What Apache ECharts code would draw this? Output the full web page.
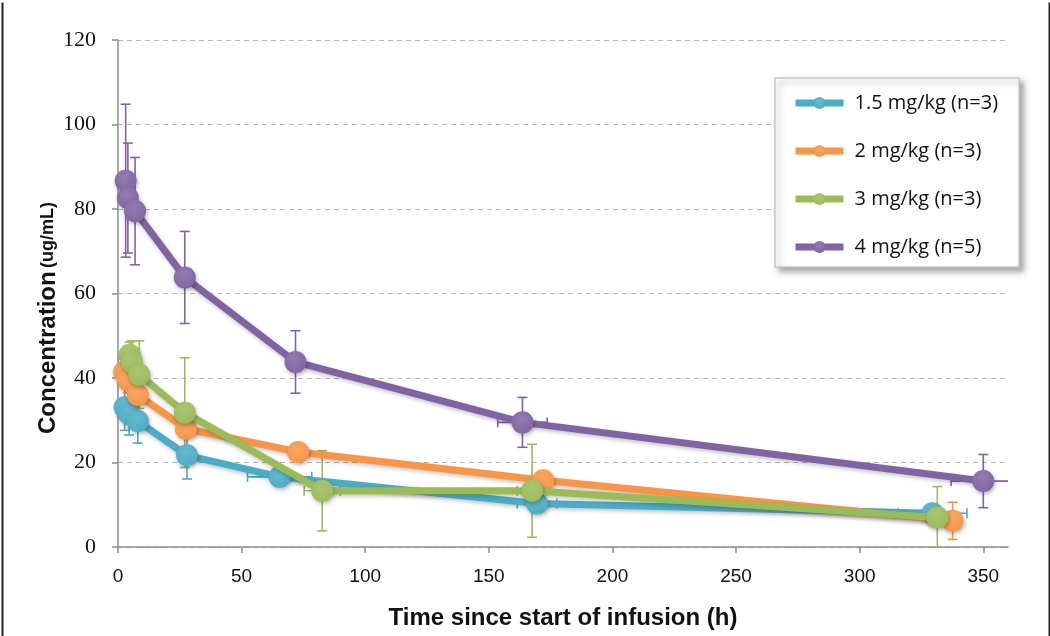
<!DOCTYPE html>
<html>
<head>
<meta charset="utf-8">
<script src="https://cdn.jsdelivr.net/npm/echarts@6/dist/echarts.min.js"></script>
<style>
html,body{margin:0;padding:0;background:#fff;}
#chart{width:1050px;height:636px;}
</style>
</head>
<body>
<div id="chart"></div>
<script>
// ---- data ----
const seriesNames = ['1.5 mg/kg (n=3)', '2 mg/kg (n=3)', '3 mg/kg (n=3)', '4 mg/kg (n=5)'];
const colors = ['#4bacc6', '#f79646', '#9bbb59', '#8064a2'];

const time15 = [2.7, 4.5, 8.0, 27.9, 65.4, 169.5, 329.4];
const conc15 = [33.1, 31.5, 29.8, 21.7, 16.6, 10.3, 8.0];
const sdConc15 = [5.5, 5.0, 5.2, 5.6, 1.0, 1.0, 1.0];
const sdTime15 = [0, 0, 0, 0, 13, 8, 14];

const time2 = [2.5, 4.0, 8.0, 27.5, 72.9, 172, 337.6];
const conc2 = [41.5, 39.5, 36.0, 28.0, 22.5, 15.8, 6.2];
const sdConc2 = [3, 3, 4, 2, 1, 1, 4.4];
const sdTime2 = [0, 0, 0, 0, 0, 0, 0];

const time3 = [4.7, 5.6, 8.6, 27.0, 82.6, 167.5, 331.4];
const conc3 = [45.5, 43.8, 40.8, 31.8, 13.3, 13.3, 7.0];
const sdConc3 = [3, 5, 8, 13, 9.5, 11, 7.3];
const sdTime3 = [0, 0, 0, 0, 7.3, 6, 0];

const time4 = [3.1, 4.0, 6.9, 27.0, 71.8, 163.6, 350];
const conc4 = [86.7, 82.6, 79.5, 63.8, 43.8, 29.5, 15.6];
const sdConc4 = [18.1, 13.0, 12.7, 10.9, 7.4, 5.9, 6.3];
const sdTime4 = [0, 0, 0, 0, 0, 10, 13];

const xTicks = [0, 50, 100, 150, 200, 250, 300, 350];
const yTicks = [0, 20, 40, 60, 80, 100, 120];

const groups = [
  [time15, conc15, sdConc15, sdTime15],
  [time2, conc2, sdConc2, sdTime2],
  [time3, conc3, sdConc3, sdTime3],
  [time4, conc4, sdConc4, sdTime4]
];

function lighten(hex, f) {
  const n = parseInt(hex.slice(1), 16);
  let r = (n >> 16) & 255, g = (n >> 8) & 255, b = n & 255;
  r = Math.round(r + (255 - r) * f); g = Math.round(g + (255 - g) * f); b = Math.round(b + (255 - b) * f);
  return 'rgb(' + r + ',' + g + ',' + b + ')';
}

const series = [];
groups.forEach((g, i) => {
  const [t, c, sc, st] = g;
  const color = colors[i];
  // error bars
  series.push({
    type: 'custom',
    name: 'err' + i,
    clip: true,
    z: 1,
    silent: true,
    data: t.map((x, k) => [x, c[k], sc[k], st[k]]),
    renderItem: function (params, api) {
      const x = api.value(0), y = api.value(1), ey = api.value(2), ex = api.value(3);
      const children = [];
      const cap = 5;
      const style = { stroke: color, lineWidth: 1.6 };
      if (ey > 0) {
        const p1 = api.coord([x, y + ey]);
        const p2 = api.coord([x, y - ey]);
        children.push({ type: 'line', shape: { x1: p1[0], y1: p1[1], x2: p2[0], y2: p2[1] }, style: style });
        children.push({ type: 'line', shape: { x1: p1[0] - cap, y1: p1[1], x2: p1[0] + cap, y2: p1[1] }, style: style });
        children.push({ type: 'line', shape: { x1: p2[0] - cap, y1: p2[1], x2: p2[0] + cap, y2: p2[1] }, style: style });
      }
      if (ex > 0) {
        const q1 = api.coord([x - ex, y]);
        const q2 = api.coord([x + ex, y]);
        children.push({ type: 'line', shape: { x1: q1[0], y1: q1[1], x2: q2[0], y2: q2[1] }, style: style });
        children.push({ type: 'line', shape: { x1: q1[0], y1: q1[1] - cap, x2: q1[0], y2: q1[1] + cap }, style: style });
        children.push({ type: 'line', shape: { x1: q2[0], y1: q2[1] - cap, x2: q2[0], y2: q2[1] + cap }, style: style });
      }
      return { type: 'group', children: children };
    }
  });
  // line + markers
  series.push({
    type: 'line',
    name: seriesNames[i],
    z: 2 + i,
    data: t.map((x, k) => [x, c[k]]),
    symbol: 'circle',
    symbolSize: 22,
    showSymbol: true,
    clip: true,
    lineStyle: { color: color, width: 7, shadowColor: 'rgba(0,0,0,0.25)', shadowBlur: 4, shadowOffsetX: 1, shadowOffsetY: 2 },
    itemStyle: {
      color: {
        type: 'radial', x: 0.45, y: 0.35, r: 0.7,
        colorStops: [{ offset: 0, color: lighten(color, 0.15) }, { offset: 1, color: color }]
      },
      borderWidth: 0,
      shadowColor: 'rgba(0,0,0,0.3)', shadowBlur: 4, shadowOffsetX: 1, shadowOffsetY: 2
    },
    emphasis: { disabled: true },
    animation: false
  });
});

const chart = echarts.init(document.getElementById('chart'), null, { renderer: 'canvas' });
chart.setOption({
  animation: false,
  color: colors,
  backgroundColor: '#fff',
  grid: { left: 118, right: 42, top: 40, bottom: 89, containLabel: false },
  xAxis: {
    type: 'value', min: 0, max: 360, interval: 50,
    axisLine: { show: true, lineStyle: { color: '#8c8c8c', width: 1.5 } },
    axisTick: { show: true, length: 6, customValues: xTicks, lineStyle: { color: '#8c8c8c', width: 1.5 } },
    axisLabel: {
      customValues: xTicks, margin: 20,
      color: '#111', fontSize: 19, fontFamily: 'Liberation Sans Narrow, Liberation Sans, sans-serif'
    },
    splitLine: { show: false },
    name: 'Time since start of infusion (h)',
    nameLocation: 'middle', nameGap: 59,
    nameTextStyle: { color: '#111', fontSize: 24, fontWeight: 'bold', fontFamily: 'Liberation Sans Narrow, Liberation Sans, sans-serif' }
  },
  yAxis: {
    type: 'value', min: 0, max: 120, interval: 20,
    axisLine: { show: true, lineStyle: { color: '#8c8c8c', width: 1.5 } },
    axisTick: { show: true, length: 6, lineStyle: { color: '#8c8c8c', width: 1.5 } },
    axisLabel: {
      customValues: yTicks, margin: 22,
      color: '#111', fontSize: 22, fontFamily: 'Liberation Serif, DejaVu Serif, serif'
    },
    splitLine: { show: true, lineStyle: { color: '#b8b8b8', type: [5, 4], width: 1 } }
  },
  legend: {
    show: true,
    data: seriesNames,
    orient: 'vertical',
    left: 775, top: 78,
    padding: [15, 21, 10, 17],
    itemGap: 28,
    itemWidth: 48, itemHeight: 15,
    backgroundColor: '#fff',
    borderColor: '#c8c8c8', borderWidth: 1.5,
    shadowColor: 'rgba(0,0,0,0.35)', shadowBlur: 6, shadowOffsetX: 4, shadowOffsetY: 4,
    lineStyle: { width: 7 },
    textStyle: { fontSize: 20, color: '#111', fontFamily: 'Open Sans, Liberation Sans, sans-serif', padding: [0, 0, 0, 6] },
    selectedMode: false
  },
  graphic: [{
    type: 'polyline', left: 0, top: 0, silent: true, z: 100,
    shape: { points: [[1.5, 0], [1.5, 634.5], [1048.5, 634.5], [1048.5, 0]] },
    style: { fill: 'none', stroke: '#222', lineWidth: 2 }
  }, {
    type: 'text', x: 48, y: 318, rotation: Math.PI / 2, silent: true, z: 100,
    style: {
      text: '{a|Concentration} {b|(ug/mL)}',
      align: 'center', verticalAlign: 'middle',
      rich: {
        a: { fontSize: 24, fontWeight: 'bold', fill: '#111', fontFamily: 'Liberation Sans, sans-serif' },
        b: { fontSize: 18, fontWeight: 'bold', fill: '#111', fontFamily: 'Liberation Sans, sans-serif' }
      }
    }
  }],
  series: series
});
</script>
</body>
</html>
